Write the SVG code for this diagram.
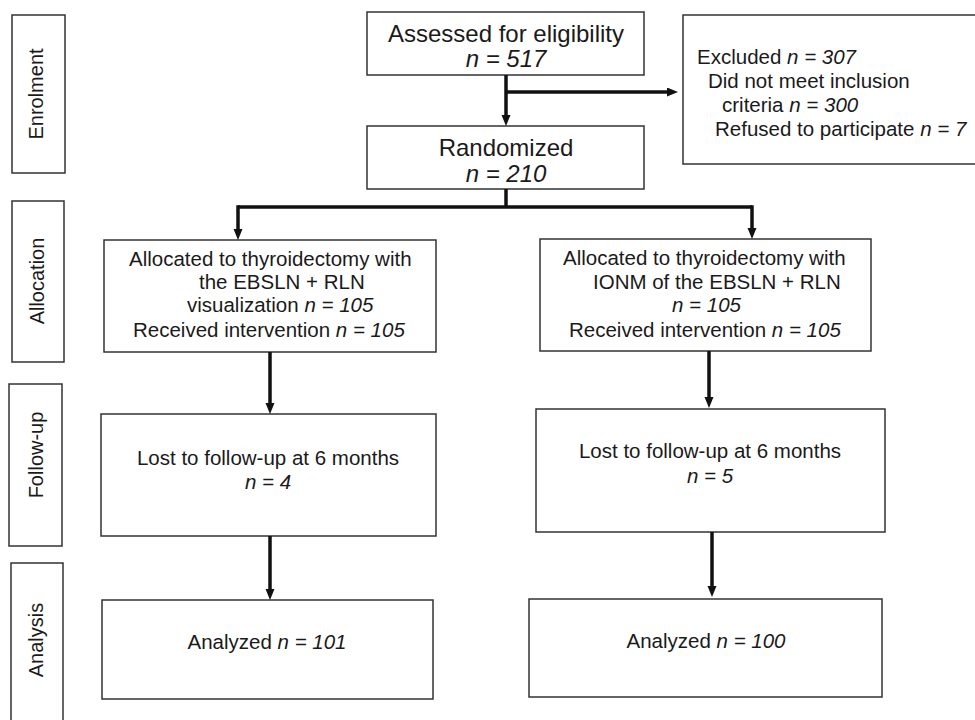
<svg xmlns="http://www.w3.org/2000/svg" width="975" height="720" viewBox="0 0 975 720">
<style>
.box{fill:#fff;stroke:#333;stroke-width:1.5}
.lbl{font-family:"Liberation Sans",Arial,sans-serif;font-size:20px;fill:#1a1a1a;text-anchor:middle}
.t{font-family:"Liberation Sans",Arial,sans-serif;font-size:20.5px;fill:#1a1a1a}
.big{font-family:"Liberation Sans",Arial,sans-serif;font-size:24px;fill:#1a1a1a;text-anchor:middle}
.c{text-anchor:middle}
.i{font-style:italic}
.ar{fill:none;stroke:#111;stroke-width:3.5;marker-end:url(#ah)}
.ln{fill:none;stroke:#111;stroke-width:3.5}
</style>
<defs>
<marker id="ah" markerUnits="userSpaceOnUse" markerWidth="12" markerHeight="10" refX="0" refY="4.5" orient="auto">
<path d="M0,0 L11,4.5 L0,9 Z" fill="#111"/>
</marker>
</defs>
<rect width="975" height="720" fill="#fff"/>

<g id="stage-enrolment">
<rect class="box" x="12" y="15" width="53" height="158"/>
<text class="lbl" transform="translate(43,94) rotate(-90)">Enrolment</text>
</g>
<g id="stage-allocation">
<rect class="box" x="12" y="201" width="52" height="161"/>
<text class="lbl" transform="translate(44,281) rotate(-90)">Allocation</text>
</g>
<g id="stage-followup">
<rect class="box" x="9" y="384" width="53" height="162"/>
<text class="lbl" transform="translate(43,455) rotate(-90)">Follow-up</text>
</g>
<g id="stage-analysis">
<rect class="box" x="11" y="563" width="52" height="170"/>
<text class="lbl" transform="translate(43,640) rotate(-90)">Analysis</text>
</g>

<g id="assessed">
<rect class="box" x="367" y="12" width="277" height="63"/>
<text class="big" x="506" y="42">Assessed for eligibility</text>
<text class="big i" x="506" y="67">n = 517</text>
</g>
<g id="excluded">
<rect class="box" x="683" y="15" width="300" height="149"/>
<text class="t" x="697" y="64">Excluded <tspan class="i">n = 307</tspan></text>
<text class="t" x="708" y="88">Did not meet inclusion</text>
<text class="t" x="722" y="112">criteria <tspan class="i">n = 300</tspan></text>
<text class="t" x="715" y="136">Refused to participate <tspan class="i">n = 7</tspan></text>
</g>
<g id="randomized">
<rect class="box" x="367" y="126" width="277" height="63"/>
<text class="big" x="506" y="156">Randomized</text>
<text class="big i" x="506" y="182">n = 210</text>
</g>

<g id="alloc-left">
<rect class="box" x="104" y="240" width="332" height="112"/>
<text class="t" x="129" y="266">Allocated to thyroidectomy with</text>
<text class="t" x="199" y="289">the EBSLN + RLN</text>
<text class="t" x="187" y="312">visualization <tspan class="i">n = 105</tspan></text>
<text class="t" x="133" y="337">Received intervention <tspan class="i">n = 105</tspan></text>
</g>
<g id="alloc-right">
<rect class="box" x="540" y="239" width="331" height="112"/>
<text class="t" x="563" y="265">Allocated to thyroidectomy with</text>
<text class="t" x="593" y="289">IONM of the EBSLN + RLN</text>
<text class="t i" x="672" y="312">n = 105</text>
<text class="t" x="569" y="337">Received intervention <tspan class="i">n = 105</tspan></text>
</g>

<g id="follow-left">
<rect class="box" x="101" y="414" width="335" height="122"/>
<text class="t c" x="268" y="465">Lost to follow-up at 6 months</text>
<text class="t c i" x="268" y="489">n = 4</text>
</g>
<g id="follow-right">
<rect class="box" x="536" y="409" width="349" height="123"/>
<text class="t c" x="710" y="458">Lost to follow-up at 6 months</text>
<text class="t c i" x="710" y="483">n = 5</text>
</g>

<g id="analysis-left">
<rect class="box" x="102" y="600" width="331" height="99"/>
<text class="t c" x="267" y="649">Analyzed <tspan class="i">n = 101</tspan></text>
</g>
<g id="analysis-right">
<rect class="box" x="529" y="599" width="353" height="98"/>
<text class="t c" x="706" y="648">Analyzed <tspan class="i">n = 100</tspan></text>
</g>

<g id="connectors">
<path class="ar" d="M506,75 V115"/>
<path class="ar" d="M506,92 H667"/>
<path class="ln" d="M506,189 V207"/>
<path class="ln" d="M238,207 H752"/>
<path class="ar" d="M238,205.25 V229"/>
<path class="ar" d="M752,205.25 V228"/>
<path class="ar" d="M270,352 V403"/>
<path class="ar" d="M270,536 V589"/>
<path class="ar" d="M709,351 V397"/>
<path class="ar" d="M712,532 V586"/>
</g>
</svg>
